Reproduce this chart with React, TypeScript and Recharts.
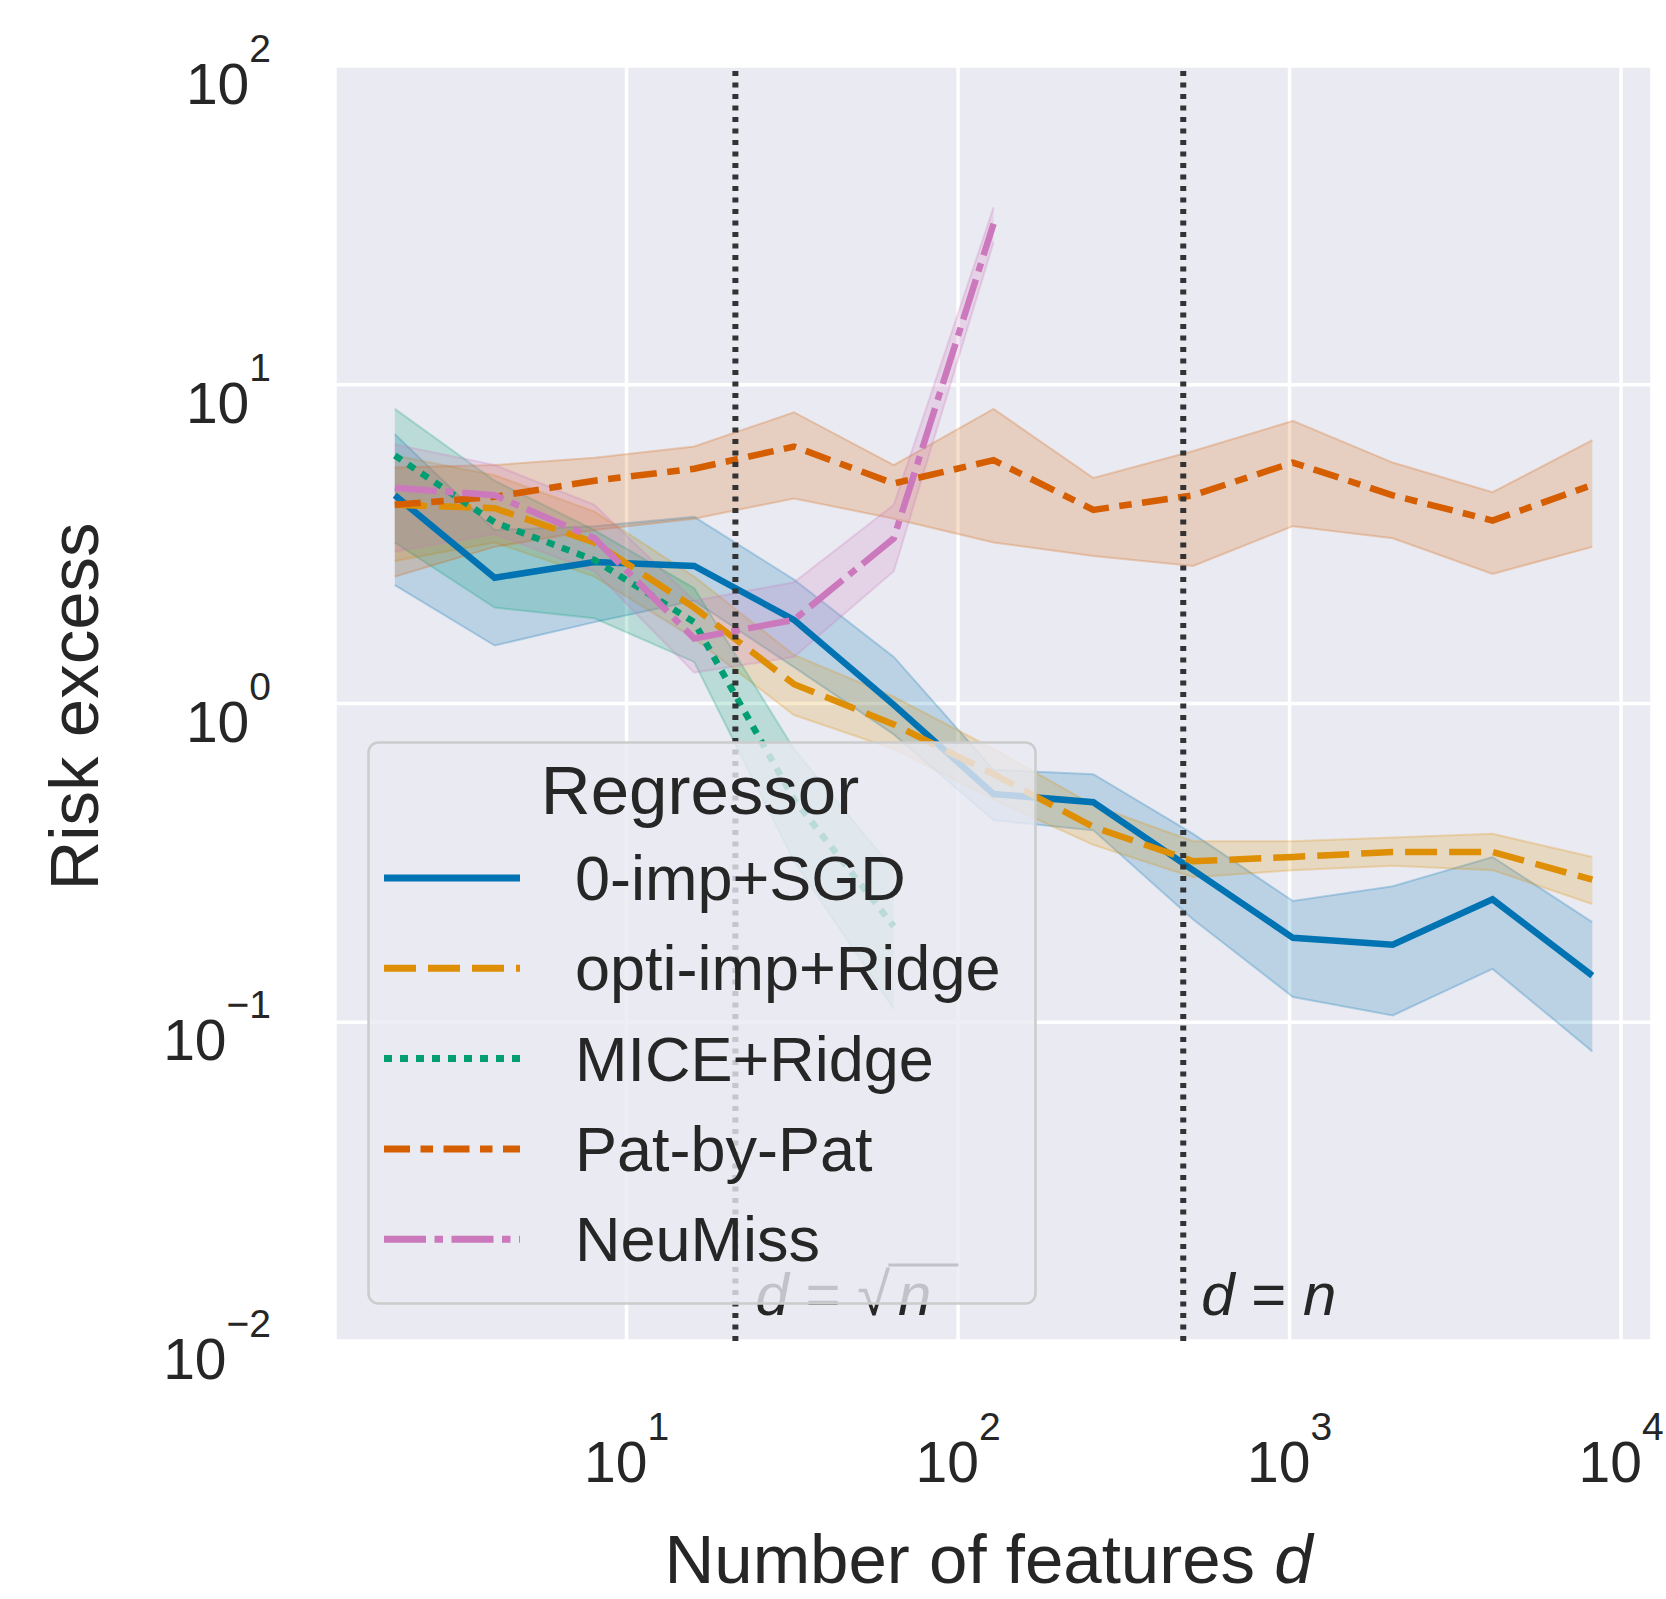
import { ComposedChart, Line, Area, XAxis, YAxis, CartesianGrid, ReferenceLine, Legend } from "recharts";

// number of features d (log2 grid)
const FEATURES = [2, 4, 8, 16, 32, 64, 128, 256, 512, 1024, 2048, 4096, 8192];

// 0-imp+SGD
const SGD = [4.5, 2.48, 2.78, 2.7, 1.83, 0.99, 0.52, 0.49, 0.3, 0.184, 0.175, 0.243, 0.14];
const SGD_LO = [2.35, 1.52, 1.8, 2.1, 1.3, 0.8, 0.43, 0.4, 0.21, 0.12, 0.105, 0.147, 0.081];
const SGD_HI = [7.0, 3.5, 3.6, 3.85, 2.45, 1.4, 0.62, 0.6, 0.39, 0.24, 0.267, 0.33, 0.206];

// opti-imp+Ridge
const OPTI = [4.2, 4.1, 3.2, 2.0, 1.15, 0.86, 0.6, 0.41, 0.32, 0.33, 0.342, 0.342, 0.28];
const OPTI_LO = [2.8, 3.2, 2.5, 1.6, 0.92, 0.72, 0.5, 0.36, 0.285, 0.3, 0.31, 0.3, 0.235];
const OPTI_HI = [6.0, 5.2, 4.0, 2.5, 1.42, 1.05, 0.72, 0.48, 0.37, 0.37, 0.38, 0.39, 0.33];

// MICE+Ridge (stops at d=64)
const MICE = [6.0, 3.7, 2.82, 1.8, 0.5, 0.2];
const MICE_LO = [3.2, 2.0, 1.85, 1.35, 0.32, 0.11];
const MICE_HI = [8.4, 5.0, 3.5, 2.3, 0.72, 0.3];

// Pat-by-Pat
const PAT = [4.2, 4.45, 5.0, 5.45, 6.4, 4.9, 5.8, 4.05, 4.5, 5.7, 4.5, 3.75, 4.85];
const PAT_LO = [2.5, 3.1, 3.5, 3.8, 4.4, 3.8, 3.2, 2.9, 2.7, 3.6, 3.3, 2.55, 3.1];
const PAT_HI = [5.5, 5.6, 5.9, 6.4, 8.2, 5.6, 8.4, 5.1, 6.2, 7.7, 5.7, 4.6, 6.7];

// NeuMiss (stops at d=128)
const NEU = [4.75, 4.5, 3.3, 1.6, 1.83, 3.3, 32];
const NEU_LO = [3.0, 3.4, 2.6, 1.25, 1.4, 2.6, 28];
const NEU_HI = [6.5, 5.6, 4.2, 2.1, 2.4, 4.2, 36];

const X_DOMAIN = [1.32, 12400];
const Y_DOMAIN = [0.01, 100];
const X_TICKS = [10, 100, 1000, 10000];
const Y_TICKS = [0.01, 0.1, 1, 10, 100];

// vertical markers d = sqrt(n) and d = n
const SQRT_N = 21.3;
const N = 478;

const FONT = '"Liberation Sans", Arial, sans-serif';
const INK = "#262626";
const MARK = "#333333";

const SERIES = [
  { key: "sgd", name: "0-imp+SGD", color: "#0173b2", dash: undefined, mid: SGD, lo: SGD_LO, hi: SGD_HI },
  { key: "opti", name: "opti-imp+Ridge", color: "#de8f05", dash: "32 12", mid: OPTI, lo: OPTI_LO, hi: OPTI_HI },
  { key: "mice", name: "MICE+Ridge", color: "#029e73", dash: "8 8", mid: MICE, lo: MICE_LO, hi: MICE_HI },
  { key: "pat", name: "Pat-by-Pat", color: "#d55e00", dash: "26 10.5 12.5 10.5", mid: PAT, lo: PAT_LO, hi: PAT_HI },
  { key: "neu", name: "NeuMiss", color: "#cc78bc", dash: "42 8.5 8.5 8.5", mid: NEU, lo: NEU_LO, hi: NEU_HI },
];

const rows = FEATURES.map((d, i) => {
  const row: Record<string, unknown> = { d };
  SERIES.forEach((s) => {
    const v = s.mid[i];
    row[s.key] = v ?? null;
    row[s.key + "Band"] = v == null ? null : [s.lo[i], s.hi[i]];
  });
  return row;
});

function expText(v: number) {
  const e = Math.round(Math.log10(v));
  return e < 0 ? `\u2212${-e}` : `${e}`;
}

function YTick({ x, y, payload }: any) {
  return (
    <text x={x} y={y + 38} textAnchor="end" fill={INK} fontFamily={FONT}>
      <tspan fontSize={57}>10</tspan>
      <tspan fontSize={39} dy={-42}>{expText(payload.value)}</tspan>
    </text>
  );
}

function XTick({ x, y, payload }: any) {
  return (
    <text x={x} y={y + 141} textAnchor="middle" fill={INK} fontFamily={FONT}>
      <tspan fontSize={57}>10</tspan>
      <tspan fontSize={39} dy={-42}>{expText(payload.value)}</tspan>
    </text>
  );
}

function XTitle({ viewBox }: any) {
  return (
    <text x={viewBox.x + viewBox.width / 2 - 5} y={viewBox.y + 242} textAnchor="middle" fill={INK} fontFamily={FONT} fontSize={69}>
      Number of features <tspan fontStyle="italic">d</tspan>
    </text>
  );
}

function YTitle({ viewBox }: any) {
  const x = viewBox.x + viewBox.width - 237;
  const y = viewBox.y + viewBox.height / 2 + 3;
  return (
    <text x={x} y={y} transform={`rotate(-90, ${x}, ${y})`} textAnchor="middle" fill={INK} fontFamily={FONT} fontSize={69}>
      Risk excess
    </text>
  );
}

function NLabel({ viewBox }: any) {
  const x = viewBox.x + 18;
  const y = viewBox.y + viewBox.height - 26;
  return (
    <text x={x} y={y} fill={INK} fontFamily={FONT} fontSize={60} style={{ whiteSpace: "pre" }}>
      <tspan fontStyle="italic">d</tspan>
      <tspan> = </tspan>
      <tspan fontStyle="italic">n</tspan>
    </text>
  );
}

function SqrtLabel({ viewBox }: any) {
  const x = viewBox.x + 20;
  const y = viewBox.y + viewBox.height - 26;
  return (
    <g>
      <text x={x} y={y} fill={INK} fontFamily={FONT} fontSize={60} style={{ whiteSpace: "pre" }}>
        <tspan fontStyle="italic">d</tspan>
        <tspan> = {"\u221a"}</tspan>
        <tspan fontStyle="italic" dx={8}>n</tspan>
      </text>
      <line x1={x + 133} x2={x + 203} y1={y - 50} y2={y - 50} stroke={INK} strokeWidth={3} />
    </g>
  );
}

function LegendBox() {
  return (
    <svg width={670} height={564} style={{ display: "block" }}>
      <rect x={1.5} y={1.5} width={667} height={561} rx={10} fill="#eaeaf2" fillOpacity={0.8} stroke="#cccccc" strokeWidth={2.5} />
      <text x={333} y={73} textAnchor="middle" fill={INK} fontFamily={FONT} fontSize={69}>
        Regressor
      </text>
      {SERIES.map((s, i) => {
        const cy = 137 + i * 90.3;
        return (
          <g key={s.key}>
            <line x1={17} x2={153} y1={cy} y2={cy} stroke={s.color} strokeWidth={7} strokeDasharray={s.dash} />
            <text x={208} y={cy + 22} fill={INK} fontFamily={FONT} fontSize={63}>
              {s.name}
            </text>
          </g>
        );
      })}
    </svg>
  );
}

export default function App() {
  return (
    <div style={{ position: "absolute", left: 0, top: 0, width: 1666, height: 1599, background: "#ffffff" }}>
      <ComposedChart width={1666} height={1599} data={rows} margin={{ top: 66, right: 14, left: 235, bottom: 158 }}>
        <CartesianGrid stroke="#ffffff" strokeWidth={3.5} fill="#eaeaf2" />
        <XAxis
          dataKey="d"
          type="number"
          scale="log"
          domain={X_DOMAIN}
          ticks={X_TICKS}
          allowDataOverflow
          axisLine={false}
          tickLine={false}
          tickSize={0}
          tickMargin={0}
          height={100}
          tick={<XTick />}
          label={XTitle}
        />
        <YAxis
          type="number"
          scale="log"
          domain={Y_DOMAIN}
          ticks={Y_TICKS}
          allowDataOverflow
          axisLine={false}
          tickLine={false}
          tickSize={0}
          tickMargin={64}
          width={100}
          tick={<YTick />}
          label={YTitle}
        />
        {SERIES.map((s) => (
          <Area
            key={s.key + "Band"}
            dataKey={s.key + "Band"}
            type="linear"
            fill={s.color}
            fillOpacity={0.2}
            stroke={s.color}
            strokeOpacity={0.25}
            strokeWidth={2}
            legendType="none"
            isAnimationActive={false}
          />
        ))}
        {SERIES.map((s) => (
          <Line
            key={s.key}
            dataKey={s.key}
            name={s.name}
            type="linear"
            stroke={s.color}
            strokeWidth={6.5}
            strokeDasharray={s.dash}
            dot={false}
            activeDot={false}
            isAnimationActive={false}
          />
        ))}
        <ReferenceLine x={SQRT_N} stroke={MARK} strokeWidth={6} strokeDasharray="5 6.5" label={SqrtLabel} />
        <ReferenceLine x={N} stroke={MARK} strokeWidth={6} strokeDasharray="5 6.5" label={NLabel} />
        <Legend
          layout="vertical"
          align="center"
          verticalAlign="middle"
          content={<LegendBox />}
          wrapperStyle={{ left: 367, top: 741, width: 670, height: 564 }}
        />
      </ComposedChart>
    </div>
  );
}
